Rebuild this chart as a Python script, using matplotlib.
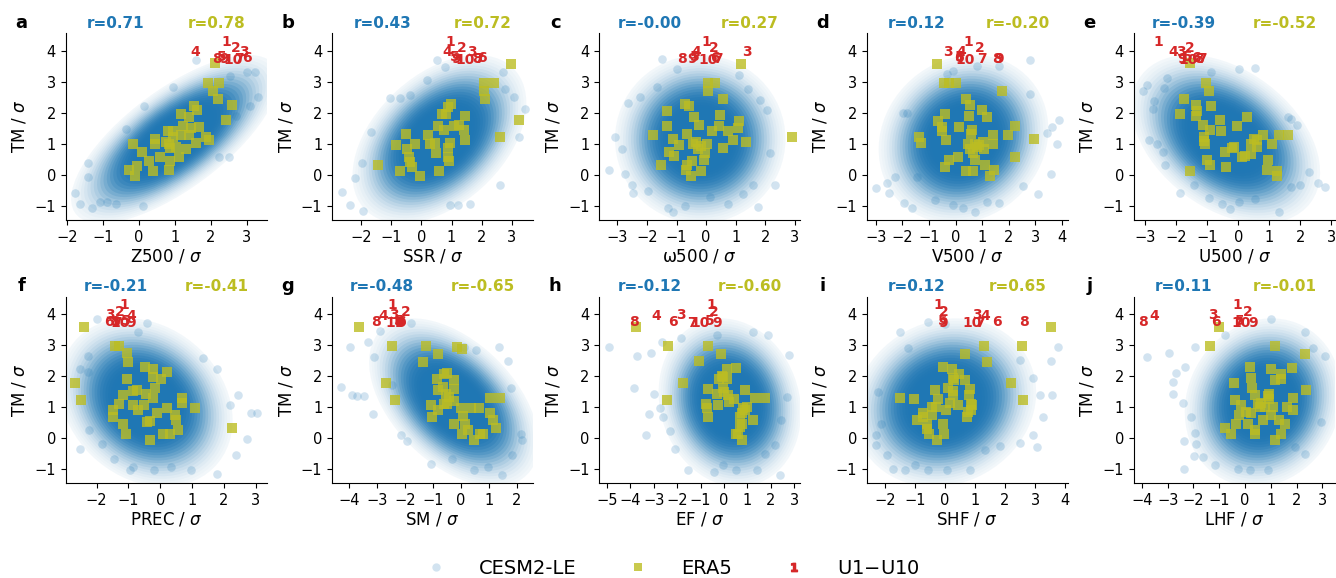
import numpy as np
import matplotlib
matplotlib.use("Agg")
import matplotlib.pyplot as plt
from matplotlib.patches import Ellipse
from matplotlib.lines import Line2D
from matplotlib.ticker import MultipleLocator

# ---- data ----
letters = list("abcdefghij")
xlabels = ["Z500", "SSR", "ω500", "V500", "U500", "PREC", "SM", "EF", "SHF", "LHF"]
r_cesm = [0.71, 0.43, -0.00, 0.12, -0.39, -0.21, -0.48, -0.12, 0.12, 0.11]
r_era5 = [0.78, 0.72, 0.27, -0.20, -0.52, -0.41, -0.65, -0.60, 0.65, -0.01]

# CESM2-LE cloud: centre / spread of predictor, shared TM centre / spread
cloud_cx = [1.0, 0.6, -0.2, 0.3, -0.4, -0.45, -0.25, 0.25, 0.0, 0.7]
cloud_sx = [0.9, 0.9, 0.9, 1.0, 0.95, 0.85, 0.95, 0.95, 0.95, 0.95]
TM_MEAN = 1.15
TM_SD = 0.85

# sparse CESM2-LE members outside the dense core (x, TM)
out_a = [(-1.77, -0.58), (-1.40, 0.39), (-1.42, -0.07), (-1.63, -0.95), (-1.31, -1.06), (-1.07, -0.88),
         (-0.87, -0.88), (-0.64, -0.93), (0.11, -1.02), (-0.35, 1.48), (0.15, 2.23), (0.94, 2.82),
         (2.49, 0.58), (2.23, 0.56), (3.00, 3.33), (3.23, 3.33), (3.31, 2.50), (3.09, 2.22),
         (2.69, 1.90), (1.59, 3.71), (2.54, 3.20)]
out_b = [(-2.63, -0.57), (-2.35, -0.99), (-1.93, -1.18), (-2.21, -0.09), (-1.97, 0.38), (-1.66, 1.37),
         (-1.03, 2.48), (-0.70, 2.48), (-0.37, 2.58), (0.19, 3.06), (0.52, 3.71), (0.96, -0.98),
         (1.23, -0.98), (1.62, -0.93), (2.61, -0.34), (3.22, 1.23), (3.42, 2.11), (3.06, 2.52),
         (2.72, 3.33), (2.76, 2.76), (0.79, 3.49)]
out_c = [(-3.28, 0.15), (-3.08, 1.23), (-2.85, 0.83), (-2.65, 2.31), (-2.74, 0.02), (-2.52, -0.34),
         (-2.48, -0.58), (-1.95, -0.52), (-1.28, -1.06), (-1.13, -1.20), (-0.71, -1.02), (0.13, -0.71),
         (0.75, -0.95), (1.26, -0.61), (1.76, -1.04), (2.16, 0.69), (2.04, 2.09), (1.82, 2.41),
         (1.43, 2.76), (1.12, 3.22), (-1.50, 3.73), (-1.00, 3.41), (-1.67, 2.82), (-2.23, 2.52),
         (2.33, -0.34), (1.57, -0.34)]
out_d = [(-3.00, -0.44), (-2.57, -0.28), (-2.50, -0.58), (-2.28, -0.07), (-1.93, -0.91), (-1.65, -1.06),
         (-1.44, -0.07), (-0.77, -0.80), (-0.08, -0.98), (0.30, -1.06), (0.74, -1.20), (1.18, -0.88),
         (1.65, -0.91), (2.56, -0.37), (3.10, -0.61), (3.59, 0.04), (3.84, 0.99), (3.91, 1.77),
         (3.63, 1.55), (3.44, 1.34), (2.81, 3.71), (2.81, 2.60), (-0.33, 3.26), (-0.08, 3.36),
         (0.80, 3.51), (1.65, 3.51), (-1.97, 2.01), (-1.82, 2.01)]
out_e = [(-2.95, 2.90), (-3.08, 2.72), (-2.72, 2.39), (-2.75, 2.14), (-2.89, 1.12), (-2.61, 0.98),
         (-2.41, 0.74), (-2.35, 0.31), (-1.89, -0.58), (-1.43, -0.34), (-0.95, -0.74), (-0.53, -0.95),
         (-0.28, -1.09), (0.02, -0.88), (0.53, -0.77), (1.30, -1.20), (1.71, -0.39), (2.00, -0.34),
         (2.27, 0.09), (2.57, -0.28), (2.81, -0.39), (1.90, 1.61), (1.71, 1.79), (1.60, 1.87),
         (0.04, 3.41), (0.53, 3.44), (-0.87, 3.33), (-2.30, 3.12), (-2.38, 2.79)]
out_f = [(-2.52, -0.34), (-2.23, 0.28), (-1.84, -0.20), (-1.46, -0.66), (-0.95, -1.04), (-0.85, -0.93),
         (-0.20, -1.04), (0.32, -0.93), (0.95, -1.04), (1.79, -1.17), (2.39, -0.55), (2.71, -0.01),
         (2.86, 0.80), (3.02, 0.82), (2.45, 1.39), (2.18, 1.07), (1.77, 2.25), (1.35, 2.58),
         (-0.43, 3.71), (-0.69, 3.44), (-2.00, 3.84), (-2.26, 2.65), (-2.26, 2.14), (-2.52, 2.25)]
out_g = [(-4.30, 1.64), (-3.96, 2.93), (-3.92, 1.39), (-3.73, 1.36), (-3.49, 1.36), (-3.32, 3.12),
         (-3.16, 0.77), (-3.10, 2.61), (-2.89, 3.46), (-2.45, 1.73), (-2.15, 0.09), (-1.93, -0.09),
         (-1.07, -0.82), (-0.30, -0.66), (0.46, -1.02), (0.99, -0.93), (1.49, -1.20), (1.85, -0.55),
         (2.15, 0.15), (2.18, -0.07), (1.79, 1.61), (1.68, 2.49), (1.38, 2.93), (0.54, 2.85),
         (0.12, 2.95), (-1.79, 3.71)]
out_h = [(-4.90, 2.93), (-3.82, 1.61), (-3.69, 2.65), (-3.32, 0.09), (-3.18, 0.77), (-3.12, 2.74),
         (-2.98, 1.42), (-2.73, 0.96), (-2.61, 0.69), (-2.30, 0.24), (-2.09, -0.34), (-1.52, -1.02),
         (-0.42, -1.09), (-0.02, -0.88), (0.50, -1.04), (1.40, -1.04), (1.75, -0.52), (2.39, -1.20),
         (2.18, -0.23), (2.42, 0.58), (2.68, 1.34), (2.79, 2.68), (1.89, 3.33), (1.23, 3.44),
         (-0.31, 3.33), (-1.84, 3.22), (-2.65, 3.12)]
out_i = [(-2.30, 0.09), (-2.30, -0.23), (-2.14, 0.47), (-2.22, 1.50), (-1.92, -0.55), (-1.72, -0.99),
         (-1.33, -1.04), (-1.00, -0.88), (-0.56, -1.04), (0.06, -1.04), (0.83, -1.04), (1.33, -0.39),
         (1.83, -0.26), (2.50, -0.17), (2.94, 0.09), (3.06, -0.28), (3.28, 0.69), (3.17, 1.39),
         (3.56, 1.39), (3.78, 2.93), (3.52, 2.50), (2.94, 1.93), (2.50, 2.52), (-1.50, 3.44),
         (-1.22, 2.90), (-0.56, 3.76), (0.00, 3.69)]
out_j = [(-3.81, 2.61), (-2.95, 2.74), (-2.80, 1.82), (-2.80, 1.42), (-2.67, 2.09), (-2.41, 1.14),
         (-2.34, 2.31), (-2.09, 0.69), (-1.96, 2.95), (-1.96, 0.17), (-1.89, -0.20), (-2.37, -0.09),
         (-2.37, -1.01), (-1.98, -0.58), (-1.63, -0.61), (-1.18, -0.88), (-0.27, -0.98), (0.18, -1.04),
         (0.89, -1.04), (1.92, -0.28), (2.34, -0.50), (2.96, 0.53), (3.09, 2.65), (2.64, 2.90),
         (2.31, 3.44), (0.99, 3.84), (-0.79, 3.33)]

# ERA5 years (x, TM)
era5_a = [(-0.17, 0.98), (0.45, 1.15), (0.45, 0.99), (0.82, 1.41), (0.94, 1.41), (0.75, 1.06), (0.84, 0.99),
          (0.94, 1.23), (1.03, 0.90), (0.87, 0.85), (1.12, 0.58), (0.87, 0.44), (0.59, 0.58), (0.39, 0.13),
          (-0.06, 0.28), (-0.26, 0.15), (-0.10, -0.03), (0.27, 0.45), (0.08, 0.74), (1.17, 1.95),
          (1.40, 1.87), (1.22, 1.59), (1.44, 1.52), (1.38, 1.28), (1.17, 1.30), (1.59, 1.03), (1.68, 1.55),
          (1.54, 2.22), (1.61, 2.09), (1.86, 1.23), (1.94, 1.12), (1.91, 2.95), (2.06, 2.71), (2.19, 2.45),
          (2.23, 2.98), (2.58, 2.27), (2.42, 1.77), (2.12, 3.60), (0.85, 0.15), (1.31, 0.83)]
era5_b = [(-1.45, 0.31), (-0.83, 0.96), (-0.51, 1.31), (-0.49, 0.83), (-0.22, 0.98), (-0.42, 0.58),
          (-0.37, 0.42), (-0.70, 0.13), (-0.31, 0.24), (-0.04, -0.05), (0.22, 1.28), (0.30, 0.99),
          (0.46, 1.03), (0.48, 0.72), (0.55, 1.57), (0.74, 1.44), (0.68, 1.96), (0.81, 1.96), (0.88, 2.20),
          (0.97, 2.28), (0.96, 1.03), (0.88, 0.88), (0.90, 0.58), (0.92, 0.45), (0.57, 0.13), (1.07, 1.57),
          (1.26, 1.61), (1.43, 1.44), (1.45, 1.90), (1.45, 1.12), (2.09, 2.98), (2.41, 2.98), (2.08, 2.72),
          (2.12, 2.45), (2.60, 1.23), (2.98, 3.58), (3.22, 1.77)]
era5_c = [(-1.81, 1.28), (-1.54, 0.31), (-1.33, 2.07), (-1.33, 1.57), (-1.24, 0.74), (-1.11, 1.14),
          (-0.93, 0.96), (-1.09, 0.60), (-0.71, 2.28), (-0.57, 2.22), (-0.66, 1.31), (-0.40, 1.87),
          (-0.23, 1.61), (-0.43, 1.01), (-0.34, 1.06), (-0.26, 0.82), (-0.18, 0.94), (0.02, 0.99),
          (-0.04, 0.69), (-0.07, 0.47), (-0.49, 0.45), (-0.68, 0.15), (-0.66, 0.31), (-0.51, -0.05),
          (-0.18, 0.13), (0.05, 2.72), (0.07, 2.98), (0.31, 2.98), (0.19, 1.41), (0.43, 1.57), (0.47, 1.93),
          (0.58, 2.44), (0.56, 0.87), (0.75, 1.41), (0.92, 1.12), (1.12, 1.74), (1.09, 1.50), (1.36, 1.05),
          (1.17, 3.58), (2.89, 1.22)]
era5_d = [(-0.71, 3.58), (-0.43, 2.98), (-0.23, 2.98), (0.02, 2.98), (-1.39, 1.23), (-1.31, 1.04),
          (-0.67, 1.74), (-0.52, 1.55), (-0.52, 1.41), (-0.40, 1.95), (-0.37, 1.12), (-0.23, 0.47),
          (-0.40, 0.26), (0.08, 0.58), (0.14, 1.55), (0.38, 2.44), (0.52, 1.90), (0.55, 2.26), (0.61, 1.44),
          (0.58, 1.33), (0.48, 0.99), (0.55, 0.82), (0.67, 0.69), (0.80, 0.90), (0.74, 1.01), (0.90, 0.96),
          (0.99, 2.09), (1.18, 1.87), (1.03, 1.06), (1.09, 0.83), (0.74, 0.47), (0.40, 0.13), (0.65, 0.13),
          (1.13, 0.31), (1.30, -0.03), (1.45, 0.15), (1.40, 1.28), (1.40, 1.01), (1.77, 2.72), (1.96, 1.28),
          (2.25, 1.58), (2.25, 0.58), (2.97, 1.17)]
era5_e = [(-1.57, 3.60), (-1.89, 1.95), (-1.75, 2.45), (-1.35, 2.27), (-1.32, 2.07), (-1.35, 1.90),
          (-1.05, 2.98), (-0.94, 2.72), (-0.87, 2.23), (-1.14, 1.61), (-1.11, 1.23), (-1.09, 1.10),
          (-1.06, 1.01), (-1.00, 0.47), (-0.92, 0.31), (-0.90, 1.44), (-0.60, 1.77), (-0.57, 1.42),
          (-0.44, 0.74), (-0.39, 0.25), (-0.19, 0.85), (-0.15, 0.90), (-0.03, 1.57), (0.28, 1.87),
          (0.13, 0.58), (0.23, 0.60), (0.40, 0.67), (0.42, 0.99), (0.51, 1.14), (0.59, 1.12), (0.61, 0.90),
          (0.80, 1.30), (1.09, 1.01), (0.96, 0.47), (0.94, 0.15), (1.26, 0.13), (1.26, -0.05), (1.33, 1.28),
          (1.62, 1.30), (-1.55, 0.13)]
era5_f = [(-2.39, 3.58), (-2.68, 1.77), (-2.49, 1.23), (-1.42, 2.98), (-1.29, 2.98), (-1.03, 2.74),
          (-1.01, 2.46), (-1.04, 1.90), (-1.16, 1.41), (-1.30, 1.12), (-1.48, 0.90), (-1.48, 0.69),
          (-1.18, 0.47), (-1.08, 0.15), (-0.85, 1.53), (-0.74, 1.55), (-0.85, 1.07), (-0.71, 0.90),
          (-0.51, 1.07), (-0.48, 2.31), (-0.45, 1.42), (-0.41, 0.53), (-0.33, 0.56), (-0.31, -0.05),
          (-0.22, 2.23), (-0.17, 1.61), (-0.22, 1.30), (-0.24, 1.98), (-0.09, 0.82), (0.02, 1.90),
          (0.20, 2.14), (0.20, 0.98), (0.07, 0.15), (0.30, 0.15), (0.46, 0.76), (0.48, 0.60), (0.57, 0.26),
          (0.67, 1.30), (0.67, 1.15), (1.10, 0.98), (2.24, 0.33)]
era5_g = [(-3.64, 3.58), (-2.45, 2.98), (-2.67, 1.77), (-2.36, 1.23), (-1.25, 2.98), (-0.83, 2.72),
          (-1.35, 2.46), (-1.07, 1.07), (-1.04, 0.67), (-0.86, 1.91), (-0.83, 1.55), (-0.81, 0.90),
          (-0.60, 2.07), (-0.48, 2.11), (-0.65, 1.64), (-0.54, 1.44), (-0.44, 1.34), (-0.60, 1.12),
          (-0.50, 1.09), (-0.26, 1.87), (-0.26, 1.58), (-0.24, 1.20), (-0.12, 2.95), (0.03, 2.88),
          (-0.24, 0.47), (0.00, 0.98), (0.09, 0.72), (0.16, 0.47), (0.03, 0.15), (0.27, 0.26), (0.38, 0.98),
          (0.46, -0.05), (0.66, 0.98), (0.70, 0.15), (0.81, 0.15), (1.03, 1.30), (1.03, 0.82), (1.14, 0.58),
          (1.26, 0.33), (1.40, 1.30)]
era5_h = [(-3.75, 3.58), (-2.37, 2.98), (-2.41, 1.23), (-1.73, 1.77), (-1.06, 2.50), (-0.69, 2.98),
          (-0.12, 2.72), (-0.76, 1.12), (-0.74, 0.96), (-0.69, 0.69), (-0.24, 1.07), (-0.31, 1.42),
          (-0.66, 1.58), (-0.20, 1.90), (-0.10, 2.02), (-0.03, 1.98), (0.15, 1.90), (0.12, 2.23),
          (-0.05, 1.63), (0.02, 1.50), (0.19, 1.41), (0.23, 1.18), (0.50, 2.28), (0.43, 1.28), (0.90, 1.55),
          (1.33, 1.30), (1.23, 0.58), (1.75, 1.30), (0.83, 0.98), (0.97, 1.01), (0.90, 0.90), (0.76, 0.80),
          (0.69, 0.69), (0.76, 0.47), (0.69, 0.36), (0.52, 0.15), (0.61, 0.13), (0.76, -0.05)]
era5_i = [(3.52, 3.58), (2.56, 2.98), (1.31, 2.98), (0.67, 2.72), (1.39, 2.47), (2.19, 1.77), (2.61, 1.23),
          (-1.50, 1.31), (-1.03, 1.28), (-0.94, 0.58), (-0.72, 0.82), (-0.74, 0.69), (-0.61, 0.47),
          (-0.59, 0.31), (-0.53, 0.15), (-0.44, 1.01), (-0.42, 0.74), (-0.30, 1.01), (-0.33, 1.55),
          (-0.22, 1.28), (-0.08, 2.31), (-0.06, 0.47), (-0.03, 0.15), (0.02, 0.90), (-0.28, -0.05),
          (0.09, 1.61), (0.17, 1.14), (0.22, 2.22), (0.28, 1.96), (0.30, 1.87), (0.26, 1.53), (0.28, 1.39),
          (0.44, 1.07), (0.48, 2.07), (0.67, 1.87), (0.72, 0.69), (0.81, 1.39), (0.83, 1.58), (0.86, 1.12),
          (0.87, 0.90), (0.89, 1.07), (0.78, 0.85)]
era5_j = [(-1.01, 3.58), (-1.37, 2.98), (1.17, 2.98), (2.34, 2.72), (0.18, 2.31), (0.22, 1.95), (-0.43, 1.77),
          (-0.40, 1.23), (-0.77, 0.33), (-0.53, 0.15), (-0.34, 0.47), (-0.25, 0.74), (-0.14, 1.07),
          (0.05, 0.85), (0.11, 0.47), (0.22, 0.82), (0.27, 1.61), (0.37, 0.15), (0.37, 0.26), (0.40, 1.41),
          (0.50, 1.12), (0.59, 1.01), (0.76, 1.01), (0.61, 1.14), (0.70, 0.58), (0.89, 1.37), (0.92, 1.44),
          (0.93, 1.28), (0.99, 2.23), (0.99, 0.74), (1.08, 1.01), (1.17, 1.87), (1.41, 1.91), (1.41, 2.07),
          (1.30, 0.58), (1.54, 0.47), (1.41, 0.15), (1.15, -0.05), (1.64, 1.01), (1.82, 2.27), (1.86, 1.30),
          (1.86, 0.90), (2.38, 1.57)]

# U1-U10 events: TM shared, predictor x per panel
u_tm = [4.30, 4.09, 3.98, 3.95, 3.80, 3.76, 3.73, 3.74, 3.73, 3.71]
u_a = [2.44, 2.69, 2.91, 1.56, 2.31, 3.00, 2.77, 2.17, 2.37, 2.63]
u_b = [0.96, 1.34, 1.68, 0.85, 1.12, 2.01, 1.90, 1.84, 1.16, 1.45]
u_c = [0.02, 0.27, 1.37, -0.32, -0.38, 0.30, 0.41, -0.83, -0.49, 0.07]
u_d = [0.48, 0.92, -0.27, 0.23, 0.17, 0.14, 0.99, 1.55, 1.64, 0.36]
u_e = [-2.57, -1.57, -1.84, -2.11, -1.62, -1.35, -1.16, -1.25, -1.81, -1.60]
u_f = [-1.13, -1.27, -1.58, -0.90, -1.08, -1.60, -1.37, -1.42, -0.93, -1.27]
u_g = [-2.47, -1.97, -2.39, -2.77, -2.21, -2.15, -2.27, -3.04, -2.15, -2.35]
u_h = [-0.55, -0.45, -1.83, -2.87, -0.59, -2.16, -1.38, -3.82, -0.31, -1.02]
u_i = [-0.22, -0.03, 1.06, 1.33, -0.06, 1.74, 1.17, 2.64, -0.06, 0.89]
u_j = [-0.30, 0.11, -1.24, -3.51, -0.21, -1.14, -0.27, -3.96, 0.31, -0.14]

outliers = [out_a, out_b, out_c, out_d, out_e, out_f, out_g, out_h, out_i, out_j]
era5 = [era5_a, era5_b, era5_c, era5_d, era5_e, era5_f, era5_g, era5_h, era5_i, era5_j]
u_x = [u_a, u_b, u_c, u_d, u_e, u_f, u_g, u_h, u_i, u_j]

xlims = [(-2.03, 3.55), (-2.96, 3.7), (-3.61, 3.18), (-3.35, 4.23), (-3.37, 3.11),
         (-2.97, 3.34), (-4.62, 2.59), (-5.32, 3.26), (-2.61, 4.09), (-4.32, 3.48)]
ylim = (-1.46, 4.57)

blue = "#1f77b4"
olive = "#bcbd22"
red = "#d62728"

# thin density layers: core saturated to ~2 sigma, fading out by ~3 sigma
levels = np.arange(3.2, 0.1, -0.1)
target = 1 - 0.8 ** (50 * np.exp(-(levels + 0.05) ** 2 / 2))
prev = np.concatenate([[0.0], target[:-1]])
alphas = np.clip(1 - (1 - target) / (1 - prev), 0, 1)

W, H = 1336, 578
fig = plt.figure(figsize=(W / 100, H / 100), dpi=100)
lefts = [65.7, 332.0, 599.3, 866.7, 1133.7]
tops = [33.3, 296.7]
aw, ah = 201, 186.7

for i in range(10):
    row, col = divmod(i, 5)
    ax = fig.add_axes([lefts[col] / W, 1 - (tops[row] + ah) / H, aw / W, ah / H])

    # CESM2-LE cloud
    cx, sx, r = cloud_cx[i], cloud_sx[i], r_cesm[i]
    cov = np.array([[sx ** 2, r * sx * TM_SD], [r * sx * TM_SD, TM_SD ** 2]])
    vals, vecs = np.linalg.eigh(cov)
    ang = np.degrees(np.arctan2(vecs[1, 1], vecs[0, 1]))
    for k, a in zip(levels, alphas):
        ax.add_patch(Ellipse((cx, TM_MEAN), 2 * k * np.sqrt(vals[1]), 2 * k * np.sqrt(vals[0]),
                             angle=ang, facecolor=blue, alpha=a, lw=0, zorder=1))
    ox, oy = zip(*outliers[i])
    ax.scatter(ox, oy, s=38, color=blue, alpha=0.2, lw=0, zorder=1.5)

    # ERA5
    ex, ey = zip(*era5[i])
    ax.scatter(ex, ey, s=48, marker="s", color=olive, alpha=0.8, lw=0, zorder=2)

    # U1-U10
    for n, (ux, uy) in enumerate(zip(u_x[i], u_tm)):
        ax.text(ux, uy, str(n + 1), color=red, fontsize=10, fontweight="bold",
                ha="center", va="center", zorder=3)

    ax.set_xlim(*xlims[i])
    ax.set_ylim(*ylim)
    ax.xaxis.set_major_locator(MultipleLocator(1))
    ax.yaxis.set_major_locator(MultipleLocator(1))
    ax.tick_params(labelsize=10.5, length=3.5, width=0.8)
    for s in ["top", "right"]:
        ax.spines[s].set_visible(False)
    ax.set_xlabel(f"{xlabels[i]} / $\\sigma$", fontsize=12, labelpad=2)
    ax.set_ylabel("TM / $\\sigma$", fontsize=12, labelpad=4)

    ax.text(-0.22, 1.055, letters[i], transform=ax.transAxes, fontsize=13,
            fontweight="bold", ha="center", va="center")
    ax.text(0.25, 1.055, f"r={r_cesm[i]:.2f}", transform=ax.transAxes, fontsize=11,
            fontweight="bold", color=blue, ha="center", va="center")
    ax.text(0.75, 1.055, f"r={r_era5[i]:.2f}", transform=ax.transAxes, fontsize=11,
            fontweight="bold", color=olive, ha="center", va="center")

handles = [
    Line2D([], [], marker="o", color=blue, alpha=0.2, linestyle="none", markersize=6, markeredgewidth=0),
    Line2D([], [], marker="s", color=olive, alpha=0.8, linestyle="none", markersize=6, markeredgewidth=0),
    Line2D([], [], marker=r"$\mathbf{1}$", color=red, linestyle="none", markersize=6),
]
fig.legend(handles, ["CESM2-LE", "ERA5", "U1$-$U10"], loc="lower center",
           bbox_to_anchor=(0.5, -0.03), ncol=3, frameon=False, fontsize=14,
           columnspacing=2.2, handletextpad=1.2)

fig.savefig("out.png", dpi=100)
